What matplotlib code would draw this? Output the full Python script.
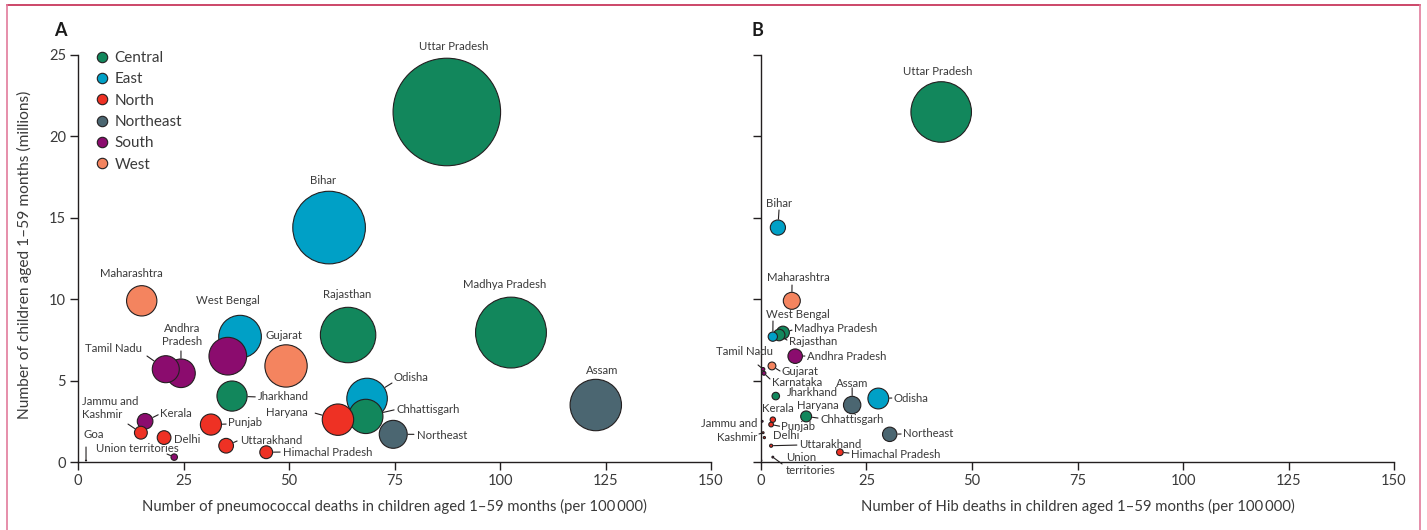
import numpy as np
import matplotlib
matplotlib.use('Agg')
import matplotlib.pyplot as plt
from matplotlib.lines import Line2D

plt.rcParams['font.family'] = ['Lato', 'DejaVu Sans']

# ---------------- data ----------------
states = ['Uttar Pradesh', 'Bihar', 'Maharashtra', 'Madhya Pradesh', 'Rajasthan',
          'West Bengal', 'Andhra Pradesh', 'Gujarat', 'Tamil Nadu', 'Karnataka',
          'Jharkhand', 'Odisha', 'Assam', 'Chhattisgarh', 'Haryana', 'Kerala',
          'Punjab', 'Jammu and Kashmir', 'Northeast', 'Delhi', 'Uttarakhand',
          'Himachal Pradesh', 'Union territories', 'Goa']
regions = ['Central', 'East', 'West', 'Central', 'Central',
           'East', 'South', 'West', 'South', 'South',
           'Central', 'East', 'Northeast', 'Central', 'North', 'South',
           'North', 'North', 'Northeast', 'North', 'North',
           'North', 'South', 'West']
children_millions = [21.5, 14.4, 9.9, 7.95, 7.8,
                     7.7, 6.5, 5.9, 5.7, 5.45,
                     4.05, 3.9, 3.5, 2.8, 2.6, 2.5,
                     2.3, 1.8, 1.7, 1.5, 1.0,
                     0.6, 0.3, 0.1]
pneumo_rate = [87.4, 59.5, 15.1, 102.6, 64.0,
               38.4, 35.5, 49.3, 20.8, 24.4,
               36.5, 68.5, 122.7, 68.2, 61.6, 15.9,
               31.5, 14.9, 74.7, 20.4, 35.1,
               44.6, 22.8, 1.9]
hib_rate = [42.7, 4.0, 7.3, 5.2, 4.3,
            2.8, 8.1, 2.6, 0.5, 0.7,
            3.5, 27.8, 21.6, 10.7, 2.8, 0.3,
            2.4, 0.5, 30.5, 0.8, 2.4,
            18.7, 2.8, 0.2]

region_names = ['Central', 'East', 'North', 'Northeast', 'South', 'West']
region_colors = {'Central': '#12875C', 'East': '#00A0C6', 'North': '#EE3124',
                 'Northeast': '#4B6671', 'South': '#8B0C6E', 'West': '#F4845F'}

xticks = [0, 25, 50, 75, 100, 125, 150]
yticks = [0, 5, 10, 15, 20, 25]

xlabel_A = 'Number of pneumococcal deaths in children aged 1\u201359 months (per 100\u2009000)'
xlabel_B = 'Number of Hib deaths in children aged 1\u201359 months (per 100\u2009000)'
ylabel = 'Number of children aged 1\u201359 months (millions)'

# label layout: (state, text, x, y, ha, leader start)
labels_A = [
    ('Uttar Pradesh', 'Uttar Pradesh', 89.1, 25.55, 'center', None),
    ('Bihar', 'Bihar', 58.1, 17.3, 'center', None),
    ('Madhya Pradesh', 'Madhya Pradesh', 101.0, 10.9, 'center', None),
    ('Assam', 'Assam', 124.2, 5.65, 'center', None),
    ('Rajasthan', 'Rajasthan', 63.7, 10.26, 'center', None),
    ('Maharashtra', 'Maharashtra', 12.6, 11.6, 'center', None),
    ('West Bengal', 'West Bengal', 35.5, 9.95, 'center', None),
    ('Gujarat', 'Gujarat', 48.8, 7.74, 'center', None),
    ('Karnataka', 'Andhra\nPradesh', 24.6, 7.8, 'center', (24.4, 6.82)),
    ('Tamil Nadu', 'Tamil Nadu', 8.3, 7.0, 'center', (16.35, 6.51)),
    ('Jharkhand', 'Jharkhand', 42.65, 4.0, 'left', (42.0, 4.0)),
    ('Odisha', 'Odisha', 74.8, 5.16, 'left', (74.4, 4.85)),
    ('Chhattisgarh', 'Chhattisgarh', 75.4, 3.22, 'left', (74.9, 3.2)),
    ('Haryana', 'Haryana', 54.5, 3.07, 'right', (56.2, 3.0)),
    ('Northeast', 'Northeast', 80.3, 1.64, 'left', (79.6, 1.7)),
    ('Kerala', 'Kerala', 19.4, 3.0, 'left', (19.0, 2.9)),
    ('Jammu and Kashmir', 'Jammu and\nKashmir', 0.95, 3.3, 'left', (11.85, 2.33)),
    ('Goa', 'Goa', 1.2, 1.66, 'left', (1.9, 0.92)),
    ('Delhi', 'Delhi', 22.75, 1.41, 'left', None),
    ('Union territories', 'Union territories', 14.0, 0.8, 'center', (21.1, 0.49)),
    ('Punjab', 'Punjab', 35.5, 2.4, 'left', (35.1, 2.33)),
    ('Uttarakhand', 'Uttarakhand', 38.4, 1.35, 'left', (37.7, 1.29)),
    ('Himachal Pradesh', 'Himachal Pradesh', 48.6, 0.61, 'left', (47.9, 0.61)),
]
labels_B = [
    ('Uttar Pradesh', 'Uttar Pradesh', 41.9, 24.0, 'center', None),
    ('Bihar', 'Bihar', 4.27, 15.9, 'center', (4.27, 15.48)),
    ('Maharashtra', 'Maharashtra', 8.77, 11.36, 'center', (7.35, 10.87)),
    ('West Bengal', 'West Bengal', 8.77, 9.03, 'center', (2.84, 8.66)),
    ('Madhya Pradesh', 'Madhya Pradesh', 7.82, 8.17, 'left', (7.35, 8.1)),
    ('Rajasthan', 'Rajasthan', 6.64, 7.43, 'left', (6.16, 7.49)),
    ('Andhra Pradesh', 'Andhra Pradesh', 10.9, 6.51, 'left', (10.4, 6.51)),
    ('Tamil Nadu', 'Tamil Nadu', -3.8, 6.76, 'center', (-0.7, 5.96)),
    ('Gujarat', 'Gujarat', 4.74, 5.53, 'left', (4.5, 5.59)),
    ('Karnataka', 'Karnataka', 2.6, 4.91, 'left', (2.13, 5.1)),
    ('Jharkhand', 'Jharkhand', 6.2, 4.24, 'left', None),
    ('Assam', 'Assam', 21.6, 4.85, 'center', (21.6, 4.55)),
    ('Odisha', 'Odisha', 31.5, 3.93, 'left', (31.0, 3.93)),
    ('Haryana', 'Haryana', 8.5, 3.5, 'left', None),
    ('Chhattisgarh', 'Chhattisgarh', 14.0, 2.58, 'left', (13.5, 2.7)),
    ('Kerala', 'Kerala', 4.0, 3.26, 'center', None),
    ('Jammu and Kashmir', 'Jammu and\nKashmir', -0.95, 1.93, 'right', (-0.47, 1.72)),
    ('Punjab', 'Punjab', 4.74, 2.15, 'left', (4.4, 2.2)),
    ('Delhi', 'Delhi', 2.84, 1.6, 'left', None),
    ('Uttarakhand', 'Uttarakhand', 9.0, 1.1, 'left', (8.5, 1.04)),
    ('Himachal Pradesh', 'Himachal Pradesh', 21.3, 0.49, 'left', (20.85, 0.55)),
    ('Northeast', 'Northeast', 33.65, 1.72, 'left', (33.2, 1.72)),
    ('Union territories', 'Union\nterritories', 5.9, -0.12, 'left', (5.0, -0.12)),
]

EDGE = '#231F20'
TXT = '#3A3A3A'

fig = plt.figure(figsize=(14.27, 5.30), dpi=100)
axA = fig.add_axes([78 / 1427, 1 - 462 / 530, 633 / 1427, 407 / 530])
axB = fig.add_axes([761 / 1427, 1 - 462 / 530, 633 / 1427, 407 / 530])


def draw_panel(ax, rates, scale, labels):
    x = np.array(rates, dtype=float)
    y = np.array(children_millions, dtype=float)
    deaths = x * y
    s = scale * deaths
    order = np.argsort(-deaths)
    cols = [region_colors[regions[i]] for i in order]
    ax.scatter(x[order], y[order], s=s[order], c=cols, edgecolors=EDGE,
               linewidths=0.8, zorder=3, clip_on=False)
    for st, txt, tx, ty, ha, lead in labels:
        i = states.index(st)
        ax.text(tx, ty, txt, ha=ha, va='center', fontsize=8.2, color=TXT,
                linespacing=1.25, clip_on=False, zorder=5,
                multialignment=ha if ha != 'center' else 'center')
        if lead is not None:
            r_pt = np.sqrt(s[i]) / 2
            ax.annotate('', xy=(x[i], y[i]), xytext=lead,
                        arrowprops=dict(arrowstyle='-', color=EDGE, lw=0.8,
                                        shrinkA=0, shrinkB=r_pt + 0.6),
                        annotation_clip=False, zorder=4)
    ax.set_xlim(0, 150)
    ax.set_ylim(0, 25)
    ax.set_xticks(xticks)
    ax.set_yticks(yticks)
    for sp in ['top', 'right']:
        ax.spines[sp].set_visible(False)
    for sp in ['left', 'bottom']:
        ax.spines[sp].set_color(EDGE)
        ax.spines[sp].set_linewidth(1.0)
    ax.tick_params(direction='out', length=5.5, width=1.0, color=EDGE,
                   labelsize=10.5, labelcolor=TXT, pad=3)
    ax.set_facecolor('none')


draw_panel(axA, pneumo_rate, 3.19, labels_A)
draw_panel(axB, hib_rate, 2.07, labels_B)
axB.set_yticklabels([])

axA.set_xlabel(xlabel_A, fontsize=10.75, color=TXT)
axB.set_xlabel(xlabel_B, fontsize=10.75, color=TXT)
axA.xaxis.set_label_coords(0.5, -0.09)
axB.xaxis.set_label_coords(0.5, -0.09)
axA.set_ylabel(ylabel, fontsize=11.2, color=TXT)
axA.yaxis.set_label_coords(-0.072, 0.508)

fig.text(60 / 1427, 1 - 30 / 530, 'A', fontsize=13, fontweight='bold',
         ha='center', va='center', color='#1a1a1a')
fig.text(757 / 1427, 1 - 30 / 530, 'B', fontsize=13, fontweight='bold',
         ha='center', va='center', color='#1a1a1a')

handles = [Line2D([], [], marker='o', ls='', markersize=7.5,
                  markerfacecolor=region_colors[r], markeredgecolor=EDGE,
                  markeredgewidth=0.8) for r in region_names]
axA.legend(handles, region_names, loc='upper left', bbox_to_anchor=(0.0285, 1.01),
           frameon=False, fontsize=11, handlelength=0.8, handletextpad=0.4,
           labelspacing=0.48, borderpad=0, borderaxespad=0, labelcolor=TXT)

# frame
fig.add_artist(Line2D([7 / 1427, 1420 / 1427], [1 - 5 / 530, 1 - 5 / 530],
                      transform=fig.transFigure, color='#C4284F', lw=1.2))
fig.add_artist(Line2D([7 / 1427, 7 / 1427], [0, 1 - 5 / 530],
                      transform=fig.transFigure, color='#E27C9C', lw=1.2))
fig.add_artist(Line2D([1420 / 1427, 1420 / 1427], [0, 1 - 5 / 530],
                      transform=fig.transFigure, color='#E27C9C', lw=1.2))

fig.savefig('out.png', dpi=100)
